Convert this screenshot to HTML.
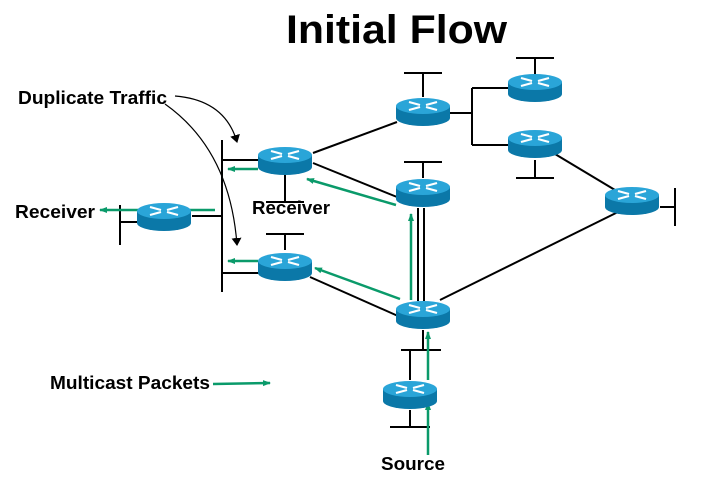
<!DOCTYPE html>
<html><head><style>body{margin:0;background:#fff}svg{display:block}</style></head><body>
<svg width="715" height="492" viewBox="0 0 715 492" xmlns="http://www.w3.org/2000/svg" font-family="Liberation Sans, Arial, sans-serif">
<defs>
<marker id="g" markerWidth="8" markerHeight="8" refX="7" refY="4" orient="auto" markerUnits="userSpaceOnUse"><path d="M0,1 L8,4 L0,7 z" fill="#0a9a6a"/></marker>
<marker id="k" markerWidth="8" markerHeight="10" refX="7" refY="5" orient="auto" markerUnits="userSpaceOnUse"><path d="M0,0 L8,5 L0,10 z" fill="#000"/></marker>
<g id="r">
<path d="M-27,0 L-27,12 A27,8 0 0 0 27,12 L27,0 z" fill="#0b78a8"/>
<ellipse cx="0" cy="0" rx="27" ry="8" fill="#2aa5d8"/>
<g stroke="#fff" stroke-width="2.2" fill="#fff">
<line x1="-14" y1="-4" x2="-3" y2="-1"/><line x1="14" y1="4" x2="3" y2="1"/>
<line x1="14" y1="-4" x2="3" y2="-1"/><line x1="-14" y1="4" x2="-3" y2="1"/>
</g>
</g>
</defs>
<text x="286" y="43" font-size="40" font-weight="bold" textLength="221" lengthAdjust="spacingAndGlyphs">Initial Flow</text>
<g stroke="#000" stroke-width="2" fill="none">
<line x1="222" y1="140" x2="222" y2="292"/>
<line x1="222" y1="160" x2="260" y2="160"/>
<line x1="222" y1="273" x2="260" y2="273"/>
<line x1="192" y1="216" x2="222" y2="216"/>
<line x1="120" y1="205" x2="120" y2="245"/>
<line x1="120" y1="222" x2="140" y2="222"/>
<line x1="285" y1="175" x2="285" y2="202"/><line x1="266" y1="202" x2="304" y2="202"/>
<line x1="285" y1="250" x2="285" y2="235"/><line x1="266" y1="234" x2="304" y2="234"/>
<line x1="313" y1="153" x2="397" y2="122"/>
<line x1="313" y1="163" x2="397" y2="197"/>
<line x1="310" y1="277" x2="398" y2="316"/>
<line x1="423" y1="178" x2="423" y2="162"/><line x1="404" y1="162" x2="442" y2="162"/>
<line x1="423" y1="97" x2="423" y2="73"/><line x1="404" y1="73" x2="442" y2="73"/>
<line x1="450" y1="113" x2="472" y2="113"/>
<line x1="472" y1="88" x2="472" y2="145"/>
<line x1="472" y1="88" x2="510" y2="88"/>
<line x1="472" y1="145" x2="510" y2="145"/>
<line x1="535" y1="74" x2="535" y2="58"/><line x1="516" y1="58" x2="554" y2="58"/>
<line x1="535" y1="160" x2="535" y2="178"/><line x1="516" y1="178" x2="554" y2="178"/>
<line x1="555" y1="154" x2="615" y2="190"/>
<line x1="440" y1="300" x2="620" y2="211"/>
<line x1="660" y1="207" x2="675" y2="207"/><line x1="675" y1="188" x2="675" y2="226"/>
<line x1="418" y1="208" x2="418" y2="301"/><line x1="424" y1="208" x2="424" y2="301"/>
<line x1="423" y1="330" x2="423" y2="350"/><line x1="401" y1="350" x2="441" y2="350"/>
<line x1="410" y1="350" x2="410" y2="380"/>
<line x1="410" y1="410" x2="410" y2="427"/><line x1="390" y1="427" x2="430" y2="427"/>
<path d="M175,96 Q225,100 237,142" marker-end="url(#k)" stroke-width="1.2"/>
<path d="M165,104 Q230,150 237,245" marker-end="url(#k)" stroke-width="1.2"/>
</g>
<g stroke="#0a9a6a" stroke-width="2.5" fill="none" marker-end="url(#g)">
<line x1="258" y1="169" x2="228" y2="169"/>
<line x1="258" y1="261" x2="228" y2="261"/>
<line x1="215" y1="210" x2="100" y2="210"/>
<line x1="396" y1="205" x2="307" y2="179"/>
<line x1="400" y1="299" x2="315" y2="268"/>
<line x1="411" y1="300" x2="411" y2="214"/>
<line x1="428" y1="380" x2="428" y2="332"/>
<line x1="428" y1="455" x2="428" y2="403"/>
<line x1="213" y1="384" x2="270" y2="383"/>
</g>
<use href="#r" x="285" y="155"/>
<use href="#r" x="285" y="261"/>
<use href="#r" x="164" y="211"/>
<use href="#r" x="423" y="106"/>
<use href="#r" x="423" y="187"/>
<use href="#r" x="423" y="309"/>
<use href="#r" x="410" y="389"/>
<use href="#r" x="535" y="82"/>
<use href="#r" x="535" y="138"/>
<use href="#r" x="632" y="195"/>
<g font-size="18" font-weight="bold" lengthAdjust="spacingAndGlyphs">
<text x="18" y="104" textLength="149" lengthAdjust="spacingAndGlyphs">Duplicate Traffic</text>
<text x="15" y="218" textLength="80" lengthAdjust="spacingAndGlyphs">Receiver</text>
<text x="252" y="214" textLength="78" lengthAdjust="spacingAndGlyphs">Receiver</text>
<text x="50" y="389" textLength="160" lengthAdjust="spacingAndGlyphs">Multicast Packets</text>
<text x="381" y="470" textLength="64" lengthAdjust="spacingAndGlyphs">Source</text>
</g>
</svg>
</body></html>
